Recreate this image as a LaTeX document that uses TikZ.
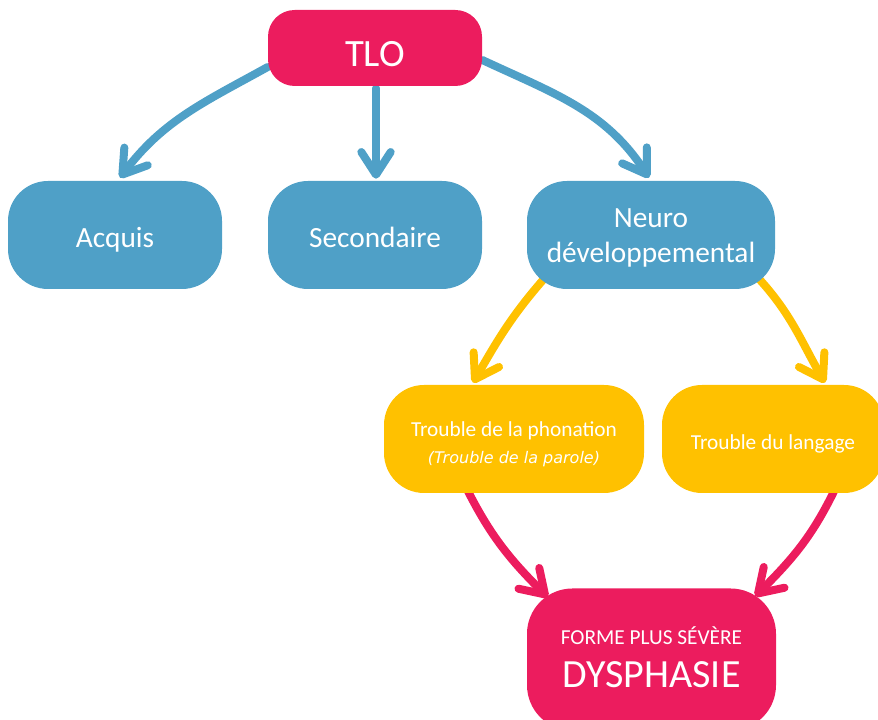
\documentclass[tikz,border=0pt]{standalone}
\usepackage{fontspec}
\setmainfont{Carlito}
\newfontfamily\dvs{DejaVu Sans}
\usetikzlibrary{arrows.meta,backgrounds}
\definecolor{cblue}{RGB}{79,160,199}
\definecolor{cmag}{RGB}{236,28,94}
\definecolor{cyel}{RGB}{255,193,0}
\begin{document}
\begin{tikzpicture}[x=0.75pt,y=0.75pt,
  box/.style={rectangle, text=white, align=center, inner sep=0pt},
  tlobox/.style={box, fill=cmag, minimum width=160.5pt, minimum height=57pt, rounded corners=20pt, font=\fontsize{29}{34}\selectfont, text height=28pt, text depth=0pt},
  bluebox/.style={box, fill=cblue, minimum width=160.5pt, minimum height=81pt, rounded corners=30pt, font=\fontsize{22}{26.25}\selectfont},
  yelbox/.style={box, fill=cyel, minimum height=81pt, rounded corners=30pt, font=\fontsize{16}{20.25}\selectfont},
  dysbox/.style={box, fill=cmag, minimum width=186.75pt, minimum height=106.5pt, rounded corners=34pt, font=\fontsize{16}{32.25}\selectfont, text height=42pt, text depth=0pt},
  conn/.style={line width=6pt, line cap=round, -{Straight Barb[length=17pt,width=22pt,line cap=round,line join=round]}},
  bconn/.style={conn, draw=cblue},
  yconn/.style={conn, draw=cyel},
  mconn/.style={conn, draw=cmag}
]
\useasboundingbox (0,0) rectangle (878,720);

\node[tlobox] (tlo) at (375,672) {TLO};
\node[bluebox, text height=18.75pt, text depth=0pt] (acq) at (115,485) {Acquis};
\node[bluebox, text height=18.75pt, text depth=0pt] (sec) at (375,485) {Secondaire};
\node[bluebox, minimum width=186pt, text height=42pt, text depth=0pt] (neu) at (651,485) {Neuro\\développemental};
\node[yelbox, minimum width=195pt, text height=37.5pt, text depth=0pt] (pho) at (514,281) {Trouble de la phonation\\{\dvs\itshape\fontsize{12}{20.25}\selectfont (Trouble de la parole)}};
\node[yelbox, minimum width=166.5pt, text height=16.5pt, text depth=0pt] (lan) at (773,281) {Trouble du langage};
\node[dysbox] (dys) at (651.5,60.5) {FORME PLUS SÉVÈRE\\{\fontsize{30}{32.25}\selectfont DYSPHASIE}};

\begin{scope}[on background layer]
\draw[bconn] ([shift={(0,-19)}]tlo.west) to[out=209,in=53] ([shift={(5,3)}]acq.north);
\draw[bconn] ([shift={(1,-2)}]tlo.south) -- ([shift={(1,2)}]sec.north);
\draw[bconn] ([shift={(0,-12)}]tlo.east) to[out=335,in=123] ([shift={(-2,3)}]neu.north);
\draw[yconn] ([shift={(16,9)}]neu.south west) to[out=229,in=60] ([shift={(-41,2)}]pho.north);
\draw[yconn] ([shift={(-15,9)}]neu.south east) to[out=312,in=120] ([shift={(52,2)}]lan.north);
\draw[mconn] ([shift={(-46,2)}]pho.south) to[out=297,in=135] ([shift={(21,-9)}]dys.north west);
\draw[mconn] ([shift={(61,2)}]lan.south) to[out=244,in=45] ([shift={(-21,-8)}]dys.north east);
\end{scope}
\end{tikzpicture}
\end{document}
